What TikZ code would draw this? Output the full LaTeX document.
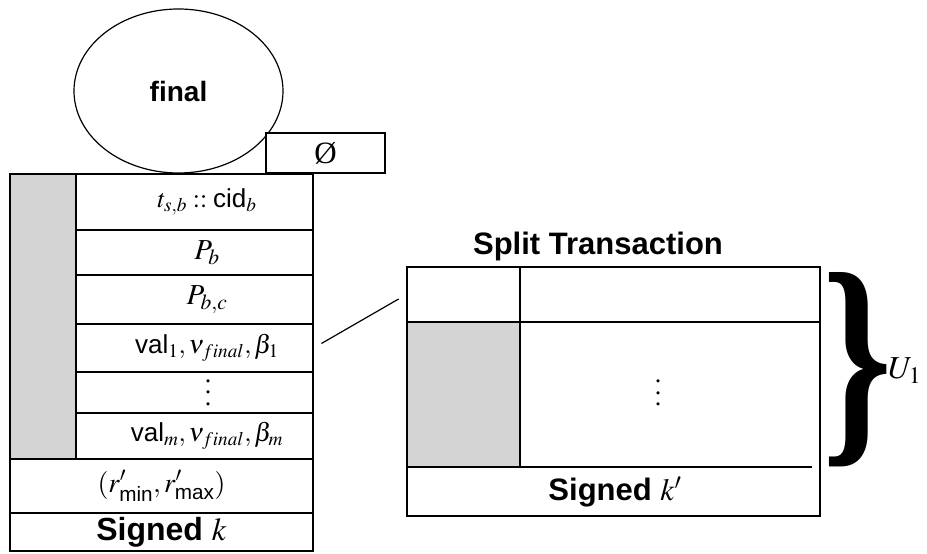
\documentclass[tikz,border=0pt]{standalone}
\usepackage{mathptmx}
\usepackage{amsmath}
\usepackage{graphicx}
\usepackage{fontspec}
\setmainfont{Liberation Serif}
\setsansfont{Liberation Sans}
\usetikzlibrary{shapes.geometric}
\definecolor{cellgray}{HTML}{D4D4D4}
\newcommand{\tallvdots}{\vbox{\baselineskip=11.5pt\lineskiplimit=0pt\hbox{.}\hbox{.}\hbox{.}}}
\tikzset{
  ln/.style={line width=1.2pt},
  cell/.style={draw, ln, rectangle, inner sep=0pt, anchor=center, fill=white},
  rowcell/.style={cell, minimum width=237pt, font=\fontsize{26}{30}\selectfont},
  widecell/.style={cell, minimum width=303pt, font=\fontsize{28}{32}\selectfont},
  boldtxt/.style={font=\fontsize{31}{34}\selectfont\sffamily\bfseries, inner sep=0pt},
}
\begin{document}
\begin{tikzpicture}[x=1pt,y=-1pt]
\useasboundingbox (0,0) rectangle (927,554);
% top ellipse and empty-set box
\node[draw, ln, ellipse, minimum width=209pt, minimum height=164pt, inner sep=0pt,
      font=\fontsize{28}{30}\selectfont\sffamily\bfseries] (final) at (178.5,91) {final};
\node[cell, minimum width=119pt, minimum height=40pt, font=\fontsize{31}{32}\selectfont] (empty) at (325.5,153) {\O};
% left stack
\node[cell, fill=cellgray, minimum width=66pt, minimum height=285pt] (gray) at (43,316.5) {};
\node[rowcell, minimum height=56pt] (r1) at (194.5,202) {\hspace*{25pt}$t_{s,b} \mathrel{::} \textsf{cid}_b$};
\node[rowcell, minimum height=45pt, font=\fontsize{29}{32}\selectfont] (r2) at (194.5,252.5) {\hspace*{25pt}$P_b$};
\node[rowcell, minimum height=49pt, font=\fontsize{29}{32}\selectfont] (r3) at (194.5,299.5) {\hspace*{25pt}$P_{b,c}$};
\node[rowcell, minimum height=48pt] (r4) at (194.5,348) {\hspace*{25pt}$\textsf{val}_1, \nu_{final}, \beta_1$};
\node[rowcell, minimum height=41pt] (r5) at (194.5,392.5) {\hspace*{27pt}\tallvdots};
\node[rowcell, minimum height=46pt] (r6) at (194.5,436) {\hspace*{25pt}$\textsf{val}_m, \nu_{final}, \beta_m$};
\node[widecell, minimum height=54pt] (r7) at (161.5,486) {$(r'_{\textsf{min}}, r'_{\textsf{max}})$};
\node[widecell, minimum height=38pt, font=\fontsize{32}{34}\selectfont] (r8) at (161.5,532) {\sffamily\bfseries Signed \normalfont$k$};
% split transaction
\node[boldtxt, anchor=base] (title) at (598,254) {Split Transaction};
\node[cell, minimum width=413pt, minimum height=249pt] (split) at (613.5,391.5) {};
\node[cell, minimum width=113pt, minimum height=55pt] (hl) at (463.5,294.5) {};
\node[cell, minimum width=300pt, minimum height=55pt] (hr) at (670,294.5) {};
\node[cell, fill=cellgray, minimum width=113pt, minimum height=145pt] (sg) at (463.5,394.5) {};
\node[font=\fontsize{26}{30}\selectfont, inner sep=0pt] (sdots) at (658,393) {\tallvdots};
\coordinate (hlineL) at (407,467);
\coordinate (hlineR) at (812,467);
\draw[ln] (hlineL) -- (hlineR);
\node[boldtxt] (sk) at (615,492) {Signed \normalfont\mdseries$k'$};
% connector
\draw[ln, shorten <=9pt, shorten >=9pt] (r4.east) -- (hl.west);
% brace and label
\node[inner sep=0pt] (brace) at (857.5,369.5) {\resizebox{70pt}{163pt}{\bfseries\}}};
\node[inner sep=0pt, anchor=west, font=\fontsize{32}{34}\selectfont] (u1) at (888,371) {$U_1$};
\end{tikzpicture}
\end{document}
